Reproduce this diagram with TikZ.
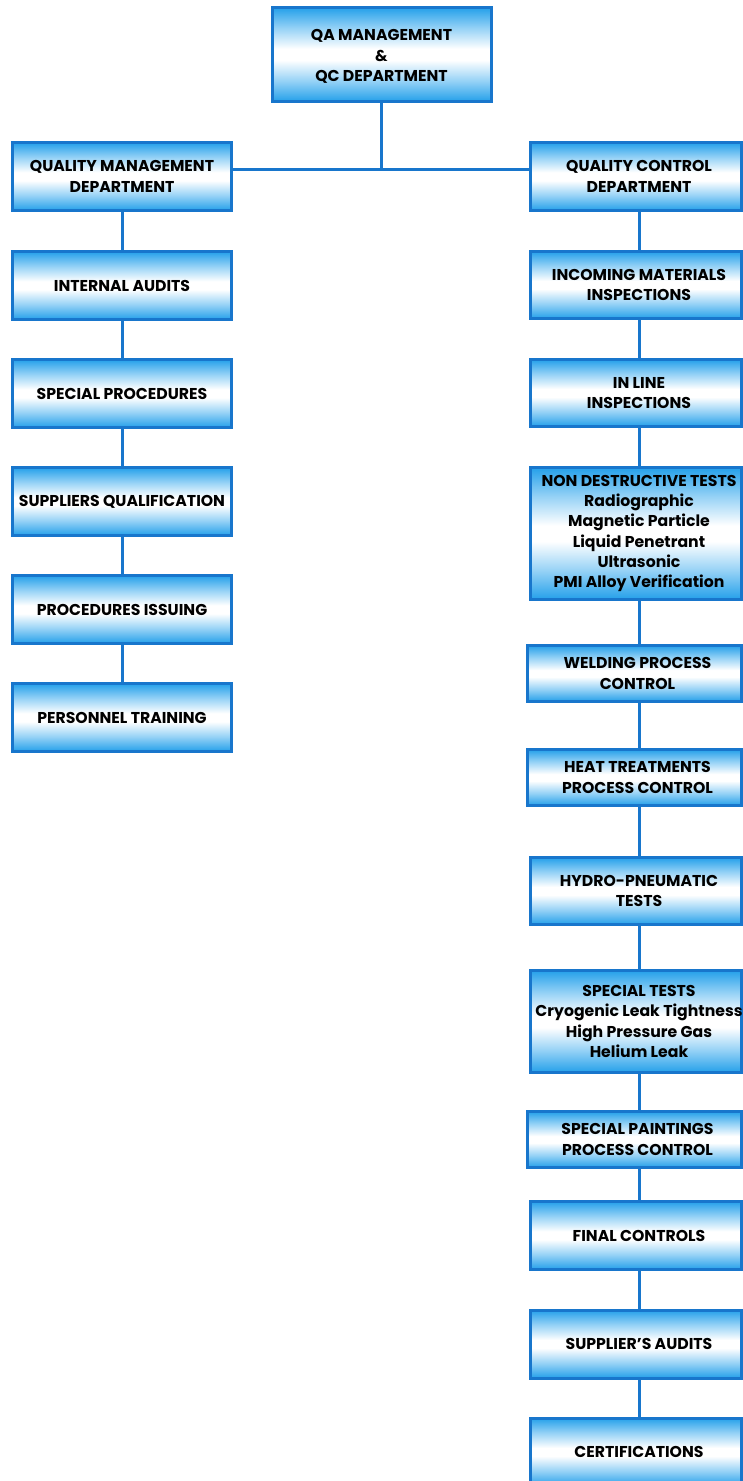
\documentclass[tikz,border=0pt]{standalone}
\usepackage{fontspec}
\setmainfont{Poppins}
\usetikzlibrary{calc}
\definecolor{bxblue}{RGB}{36,160,234}
\definecolor{bxmid}{RGB}{150,210,246}
\definecolor{bxline}{RGB}{24,118,204}
\pgfdeclareverticalshading{boxshade}{100bp}{color(0bp)=(bxblue); color(25bp)=(bxblue); color(36bp)=(bxmid); color(47bp)=(white); color(53bp)=(white); color(64bp)=(bxmid); color(75bp)=(bxblue); color(100bp)=(bxblue)}
\tikzset{
  box/.style={draw=bxline, line width=3pt, shading=boxshade, rectangle, inner sep=0pt},
  txt/.style={align=center, inner sep=0pt, font=\bfseries\fontsize{15.7}{20.2}\selectfont},
  conn/.style={draw=bxline, line width=3pt},
}
\begin{document}
\begin{tikzpicture}[x=1pt,y=-1pt]
\useasboundingbox (0,0) rectangle (742,1481);
% top
\node[box, minimum width=219pt, minimum height=94pt] (top) at (381.5,54.5) {};
\node[txt] (top-t) at ($(top.center)+(0,2)$) {QA MANAGEMENT\\\&\\QC DEPARTMENT};
% left column
\foreach \n/\y/\t in {qmd/176.5/{QUALITY MANAGEMENT\\DEPARTMENT},
                      ia/285.5/{INTERNAL AUDITS},
                      sp/393.5/{SPECIAL PROCEDURES},
                      sq/501.5/{SUPPLIERS QUALIFICATION},
                      pi/609.5/{PROCEDURES ISSUING},
                      pt/717.5/{PERSONNEL TRAINING}}{
  \node[box, minimum width=219pt, minimum height=68pt] (\n) at (122,\y) {};
  \node[txt] (\n-t) at (\n.center) {\t};
}
% right column
\foreach \n/\x/\y/\w/\h/\t in {
   qcd/635.5/176.5/211/68/{QUALITY CONTROL\\DEPARTMENT},
   imi/635.5/285/211/67/{INCOMING MATERIALS\\INSPECTIONS},
   inl/635.5/393/211/67/{IN LINE\\INSPECTIONS},
   ndt/635.5/533.5/211/132/{NON DESTRUCTIVE TESTS\\Radiographic\\Magnetic Particle\\Liquid Penetrant\\Ultrasonic\\PMI Alloy Verification},
   wpc/634/673.5/214/56/{WELDING PROCESS\\CONTROL},
   htp/634/777.5/214/56/{HEAT TREATMENTS\\PROCESS CONTROL},
   hpt/635.5/891/211/67/{HYDRO-PNEUMATIC\\TESTS},
   spt/635.5/1021.5/211/102/{SPECIAL TESTS\\Cryogenic Leak Tightness\\High Pressure Gas\\Helium Leak},
   spp/634/1139.5/214/56/{SPECIAL PAINTINGS\\PROCESS CONTROL},
   fnc/635.5/1235.5/211/68/{FINAL CONTROLS},
   sau/635.5/1344/211/68/{SUPPLIER'S AUDITS},
   cer/635.5/1452/211/68/{CERTIFICATIONS}}{
  \node[box, minimum width=\w pt, minimum height=\h pt] (\n) at (\x,\y) {};
  \node[txt] (\n-t) at ($(\n.center)+(3.5,0)$) {\t};
}
\coordinate (jn) at (381.5,169);
\coordinate (rc) at (639,0);
\draw[conn] (top.south) -- (jn);
\draw[conn] (qmd.east |- jn) -- (qcd.west |- jn);
\foreach \a/\b in {qmd/ia, ia/sp, sp/sq, sq/pi, pi/pt}
  \draw[conn] (\a.south) -- (\b.north);
\foreach \a/\b in {qcd/imi, imi/inl, inl/ndt, ndt/wpc, wpc/htp, htp/hpt, hpt/spt, spt/spp, spp/fnc, fnc/sau, sau/cer}
  \draw[conn] (\a.south -| rc) -- (\b.north -| rc);
\end{tikzpicture}
\end{document}
